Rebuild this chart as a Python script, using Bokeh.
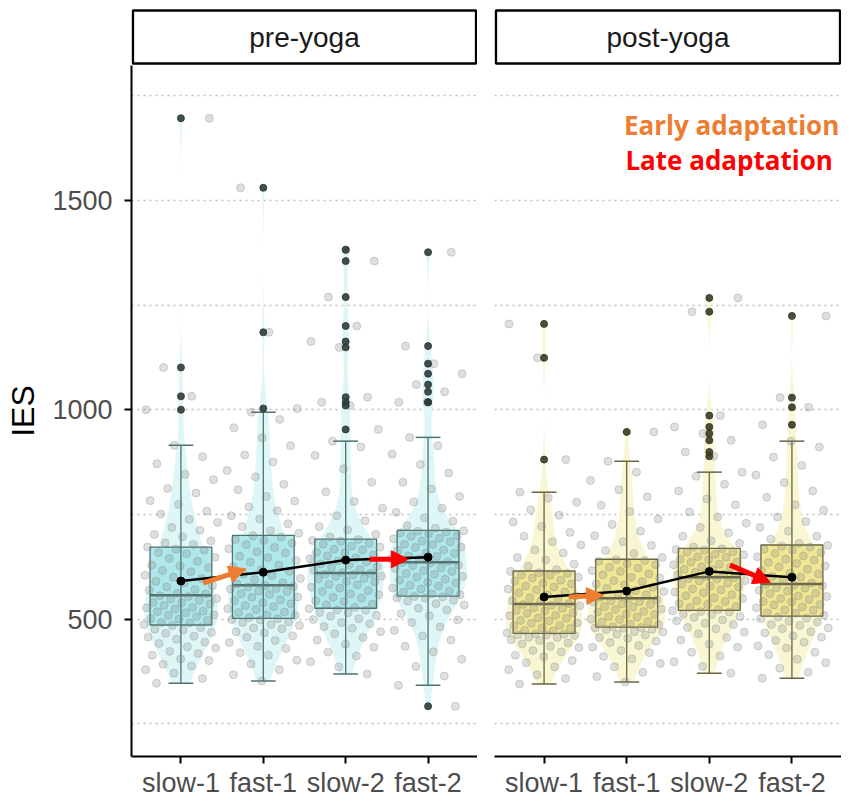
import numpy as np
from bokeh.plotting import figure
from bokeh.layouts import row, column
from bokeh.models import FixedTicker, Arrow, NormalHead, Label, Range1d
from bokeh.core.properties import value
from bokeh.embed import file_html
from bokeh.resources import INLINE

conditions = ["slow-1", "fast-1", "slow-2", "fast-2"]
phases = ["pre-yoga", "post-yoga"]

# ---- box statistics ----
pre_q1 = [486, 502, 526, 555]
pre_median = [557, 581, 610, 636]
pre_q3 = [672, 700, 691, 712]
pre_whisker_lo = [347, 352, 369, 342]
pre_whisker_hi = [915, 994, 925, 934]
pre_mean = [591, 612, 641, 648]

post_q1 = [466, 481, 521, 507]
post_median = [536, 550, 600, 584]
post_q3 = [615, 643, 669, 677]
post_whisker_lo = [345, 350, 371, 359]
post_whisker_hi = [803, 877, 851, 925]
post_mean = [553, 567, 614, 600]

pre_outliers = [
    [1000, 1032, 1101, 1696],
    [1003, 1185, 1530],
    [953, 1010, 1018, 1030, 1149, 1163, 1200, 1269, 1355, 1382],
    [292, 1018, 1018, 1043, 1060, 1086, 1110, 1152, 1376],
]
post_outliers = [
    [881, 1124, 1205],
    [947],
    [889, 899, 927, 943, 959, 986, 1234, 1267],
    [964, 1006, 1029, 1224],
]

# ---- individual observations (within whiskers), estimated ----
pre_slow1 = [347, 358, 371, 379, 388, 392, 401, 405, 414, 418, 423, 431, 434, 442, 445, 452, 457, 459, 466, 468,
             474, 476, 480, 485, 487, 491, 492, 497, 500, 501, 506, 509, 510, 515, 518, 519, 524, 527, 528, 533,
             536, 539, 540, 545, 548, 549, 554, 556, 560, 562, 569, 571, 577, 580, 587, 590, 597, 600, 605, 613,
             616, 623, 627, 629, 638, 645, 648, 656, 659, 665, 667, 672, 678, 682, 687, 697, 702, 712, 719, 731,
             738, 751, 758, 774, 783, 801, 812, 833, 846, 871, 888, 915]
pre_fast1 = [352, 367, 379, 393, 402, 414, 420, 430, 435, 444, 449, 457, 460, 467, 470, 477, 479, 485, 487, 492,
             493, 498, 499, 501, 504, 509, 510, 516, 517, 523, 525, 530, 532, 537, 539, 544, 546, 552, 553, 559,
             561, 566, 567, 572, 573, 577, 578, 580, 584, 587, 594, 597, 604, 607, 614, 618, 625, 629, 636, 640,
             647, 650, 658, 661, 668, 671, 678, 681, 688, 690, 696, 699, 705, 711, 721, 728, 739, 747, 759, 768,
             782, 793, 809, 822, 840, 855, 875, 892, 914, 933, 957, 977, 994]
pre_slow2 = [369, 386, 398, 412, 421, 433, 440, 450, 456, 465, 470, 478, 482, 489, 492, 499, 501, 507, 509, 515,
             516, 521, 522, 525, 528, 534, 536, 542, 544, 550, 552, 558, 560, 566, 568, 574, 576, 582, 583, 589,
             590, 596, 597, 602, 603, 606, 607, 609, 611, 616, 618, 623, 625, 630, 632, 637, 639, 644, 646, 651,
             653, 658, 660, 665, 667, 672, 674, 679, 681, 686, 688, 690, 696, 702, 713, 721, 735, 747, 765, 781,
             804, 827, 859, 891, 911, 925]
pre_fast2 = [342, 364, 387, 404, 422, 435, 450, 460, 473, 481, 492, 498, 508, 513, 522, 526, 534, 537, 543, 545,
             550, 551, 553, 554, 558, 560, 565, 567, 572, 574, 579, 581, 586, 588, 593, 595, 600, 602, 607, 609,
             614, 616, 621, 623, 628, 629, 634, 635, 637, 643, 644, 650, 651, 657, 658, 664, 665, 671, 672, 678,
             679, 685, 686, 692, 693, 698, 699, 704, 706, 708, 710, 711, 717, 723, 734, 742, 755, 765, 780, 793,
             811, 827, 849, 869, 894, 914, 934]
post_slow1 = [345, 358, 367, 379, 386, 396, 401, 410, 414, 422, 425, 432, 435, 441, 443, 449, 451, 456, 457, 461,
              462, 463, 464, 465, 467, 472, 473, 478, 479, 484, 485, 490, 491, 496, 497, 502, 503, 508, 509, 514,
              515, 520, 521, 526, 527, 532, 533, 535, 537, 542, 544, 549, 551, 556, 558, 563, 565, 570, 572, 577,
              579, 584, 586, 591, 593, 598, 600, 605, 606, 609, 611, 614, 618, 626, 631, 641, 647, 658, 665, 677,
              685, 698, 707, 721, 732, 748, 761, 779, 789, 803]
post_fast1 = [350, 363, 373, 386, 394, 405, 411, 420, 425, 433, 437, 444, 447, 454, 456, 462, 464, 469, 470, 475,
              476, 478, 479, 480, 482, 487, 488, 493, 494, 499, 500, 505, 506, 511, 512, 517, 518, 523, 524, 529,
              530, 535, 536, 541, 542, 544, 546, 549, 552, 558, 560, 566, 568, 574, 576, 582, 584, 590, 592, 598,
              600, 606, 608, 614, 616, 622, 624, 630, 632, 638, 640, 642, 647, 657, 664, 676, 685, 699, 710, 726,
              739, 757, 772, 792, 809, 831, 851, 877]
post_slow2 = [371, 387, 398, 412, 421, 433, 440, 450, 456, 465, 469, 477, 480, 487, 490, 496, 498, 504, 506, 511,
              512, 517, 518, 520, 523, 528, 530, 535, 537, 542, 544, 549, 551, 556, 558, 563, 565, 570, 572, 577,
              579, 584, 586, 591, 592, 596, 597, 599, 601, 606, 607, 612, 613, 618, 619, 624, 625, 630, 631, 636,
              637, 642, 643, 648, 649, 654, 655, 660, 661, 665, 666, 668, 672, 681, 687, 698, 706, 719, 729, 744,
              756, 773, 787, 806, 822, 841, 851]
post_fast2 = [359, 373, 383, 396, 404, 415, 421, 431, 436, 445, 449, 457, 460, 467, 470, 477, 479, 485, 487, 493,
              495, 501, 502, 505, 509, 514, 515, 521, 522, 527, 529, 534, 535, 541, 542, 547, 549, 554, 555, 561,
              562, 567, 569, 574, 575, 580, 581, 583, 586, 592, 594, 600, 602, 608, 610, 616, 619, 625, 627, 633,
              635, 641, 643, 649, 651, 657, 659, 665, 667, 672, 674, 676, 681, 691, 698, 710, 719, 733, 744, 760,
              773, 791, 806, 826, 844, 867, 887, 911, 925]

# ---- adaptation arrows (annotation endpoints, data units) ----
pre_arrow_x0 = [1.27, 3.29]
pre_arrow_y0 = [586, 643]
pre_arrow_x1 = [1.79, 3.76]
pre_arrow_y1 = [620, 643]
post_arrow_x0 = [1.30, 3.25]
post_arrow_y0 = [553, 629]
post_arrow_x1 = [1.72, 3.74]
post_arrow_y1 = [557, 588]
arrow_names = ["Early adaptation", "Late adaptation"]
arrow_colors = ["#ED7D31", "#FF0000"]

y_ticks = [500, 1000, 1500]
grid_ticks = [250, 500, 750, 1000, 1250, 1500, 1750]

FONT = "Liberation Sans"

panels = [
    dict(name=phases[0], q1=pre_q1, med=pre_median, q3=pre_q3, lo=pre_whisker_lo, hi=pre_whisker_hi,
         mean=pre_mean, out=pre_outliers, pts=[pre_slow1, pre_fast1, pre_slow2, pre_fast2],
         ax0=pre_arrow_x0, ay0=pre_arrow_y0, ax1=pre_arrow_x1, ay1=pre_arrow_y1,
         violin="#DDF5F7", box="#A6E5E9", edge="#4C7272", outc="#2F3B3B"),
    dict(name=phases[1], q1=post_q1, med=post_median, q3=post_q3, lo=post_whisker_lo, hi=post_whisker_hi,
         mean=post_mean, out=post_outliers, pts=[post_slow1, post_fast1, post_slow2, post_fast2],
         ax0=post_arrow_x0, ay0=post_arrow_y0, ax1=post_arrow_x1, ay1=post_arrow_y1,
         violin="#F9F5D2", box="#EEE488", edge="#6A6440", outc="#3A3826"),
]

STRIP_H = 65
PANEL_H = 738
LEFT_W, LEFT_B = 477, 131
RIGHT_W, RIGHT_B = 364, 17


def kde(vals, grid):
    v = np.asarray(vals, float)
    n = len(v)
    sd = v.std(ddof=1)
    q75, q25 = np.percentile(v, [75, 25])
    bw = 0.9 * min(sd, (q75 - q25) / 1.34) * n ** -0.2
    z = (grid[:, None] - v[None, :]) / bw
    return np.exp(-0.5 * z * z).sum(1) / (n * bw * np.sqrt(2 * np.pi))


def make_strip(label, width, left):
    s = figure(width=width, height=STRIP_H, x_range=Range1d(0, 1), y_range=Range1d(0, STRIP_H),
               min_border_left=left, min_border_right=0, min_border_top=0, min_border_bottom=0,
               toolbar_location=None, output_backend="svg", x_axis_location=None, y_axis_location=None,
               title_location=None)
    s.grid.visible = False
    s.outline_line_color = None
    s.quad(left=0.004, right=0.996, bottom=2, top=55, fill_color="white",
           line_color="black", line_width=2.5)
    s.text(x=[0.5], y=[28], text=[label], text_align="center", text_baseline="middle",
           text_font=value(FONT), text_font_size="28px", text_color="#1A1A1A")
    return s


def make_panel(d, width, left, show_y):
    p = figure(width=width, height=PANEL_H, x_range=Range1d(0.4, 4.6), y_range=Range1d(172, 1822),
               min_border_left=left, min_border_right=0, min_border_top=0, min_border_bottom=47,
               toolbar_location=None, output_backend="svg", title_location=None,
               y_axis_location="left" if show_y else None)
    p.outline_line_color = None
    p.xgrid.visible = False
    p.ygrid.ticker = FixedTicker(ticks=grid_ticks)
    p.ygrid.grid_line_color = "#BDBDBD"
    p.ygrid.grid_line_dash = "2 4"
    p.ygrid.grid_line_width = 1.3

    xs = np.arange(1, 5)
    # violins
    pts_all = [list(b) + list(o) for b, o in zip(d["pts"], d["out"])]
    grids, dens = [], []
    for vals in pts_all:
        g = np.linspace(min(vals), max(vals), 400)
        grids.append(g)
        dens.append(kde(vals, g))
    dmax = max(dd.max() for dd in dens)
    vx, vy = [], []
    for i, (g, dd) in enumerate(zip(grids, dens)):
        w = 0.47 * dd / dmax
        vx.append(list(np.concatenate([xs[i] - w, (xs[i] + w)[::-1]])))
        vy.append(list(np.concatenate([g, g[::-1]])))
    p.patches(vx, vy, fill_color=d["violin"], fill_alpha=0.95, line_color=None)

    # boxes
    p.quad(left=xs - 0.375, right=xs + 0.375, bottom=d["q1"], top=d["q3"],
           fill_color=d["box"], fill_alpha=0.85, line_color=d["edge"], line_width=1.3)
    p.segment(x0=xs, x1=xs, y0=d["lo"], y1=d["hi"], line_color=d["edge"], line_width=1.3)
    p.segment(x0=xs - 0.15, x1=xs + 0.15, y0=d["lo"], y1=d["lo"], line_color=d["edge"], line_width=1.5)
    p.segment(x0=xs - 0.15, x1=xs + 0.15, y0=d["hi"], y1=d["hi"], line_color=d["edge"], line_width=1.5)
    p.segment(x0=xs - 0.375, x1=xs + 0.375, y0=d["med"], y1=d["med"], line_color=d["edge"], line_width=2.5)

    # jittered observations
    jx, jy = [], []
    for i, vals in enumerate(pts_all):
        n = len(vals)
        off = ((np.arange(n) * 0.6180339887 + 0.17 + 0.31 * i) % 1.0 - 0.5) * 0.9
        jx.extend(list(xs[i] + off))
        jy.extend(vals)
    p.scatter(jx, jy, size=8, fill_color="#808080", fill_alpha=0.25,
              line_color="#7A8080", line_alpha=0.3, line_width=1)

    # outliers
    ox, oy = [], []
    for i, o in enumerate(d["out"]):
        ox.extend([xs[i]] * len(o))
        oy.extend(o)
    p.scatter(ox, oy, size=7, fill_color=d["outc"], fill_alpha=0.9, line_color=d["outc"], line_alpha=0.9)

    # means
    p.line(xs, d["mean"], line_color="black", line_width=2.5)
    p.scatter(xs, d["mean"], size=8, fill_color="black", line_color="black")

    # arrows
    for k in range(2):
        c = arrow_colors[k]
        p.add_layout(Arrow(end=NormalHead(size=17, fill_color=c, line_color=c),
                           x_start=d["ax0"][k], y_start=d["ay0"][k],
                           x_end=d["ax1"][k], y_end=d["ay1"][k],
                           line_color=c, line_width=5))

    # axes
    p.xaxis.ticker = FixedTicker(ticks=list(xs))
    p.xaxis.major_label_overrides = {int(x): conditions[int(x) - 1] for x in xs}
    p.xaxis.minor_tick_line_color = None
    for ax in p.axis:
        ax.axis_line_color = "black"
        ax.axis_line_width = 2
        ax.major_tick_line_color = "black"
        ax.major_tick_line_width = 2
        ax.major_tick_out = 7
        ax.major_tick_in = 0
        ax.minor_tick_line_color = None
        ax.major_label_text_font = FONT
        ax.major_label_text_font_size = "27px"
        ax.major_label_text_color = "#4D4D4D"
    p.xaxis.major_label_standoff = 4
    if show_y:
        p.yaxis.ticker = FixedTicker(ticks=y_ticks)
        p.yaxis.major_label_standoff = 12
        p.yaxis.axis_label = "IES"
        p.yaxis.axis_label_text_font = FONT
        p.yaxis.axis_label_text_font_size = "32px"
        p.yaxis.axis_label_text_font_style = "normal"
        p.yaxis.axis_label_text_color = "black"
        p.yaxis.axis_label_standoff = 8
    return p


stripL = make_strip(phases[0], LEFT_W, LEFT_B)
stripR = make_strip(phases[1], RIGHT_W, RIGHT_B)
panelL = make_panel(panels[0], LEFT_W, LEFT_B, True)
panelR = make_panel(panels[1], RIGHT_W, RIGHT_B, False)

panelR.add_layout(Label(x=3.27, y=1681, text=arrow_names[0], text_align="center", text_baseline="middle",
                        text_font="Open Sans", text_font_style="bold", text_font_size="26px",
                        text_color=arrow_colors[0]))
panelR.add_layout(Label(x=3.24, y=1597, text=arrow_names[1], text_align="center", text_baseline="middle",
                        text_font="Open Sans", text_font_style="bold", text_font_size="26px",
                        text_color=arrow_colors[1]))

layout = column(row(stripL, stripR), row(panelL, panelR))
open("out.html", "w").write(file_html(layout, INLINE))
